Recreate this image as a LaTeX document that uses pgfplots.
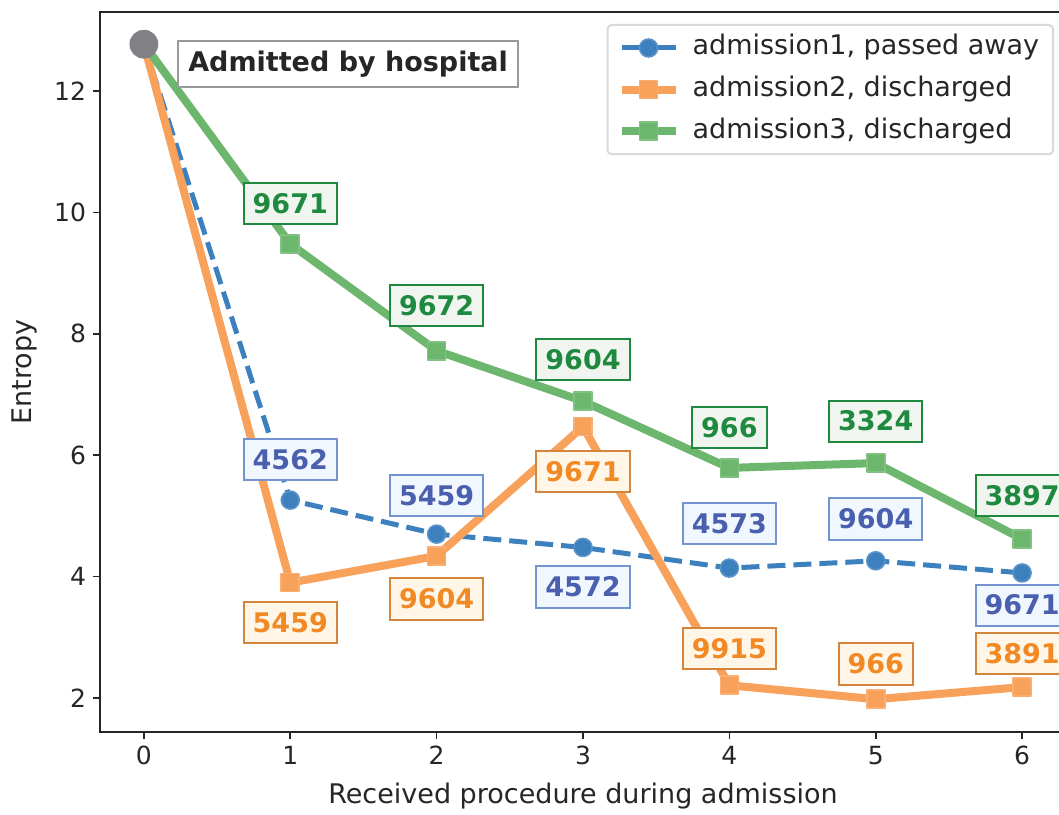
\documentclass[border=0pt]{standalone}
\usepackage{pgfplots}
\pgfplotsset{compat=1.18}
\usepackage{fontspec}
\setmainfont{DejaVu Sans}
\definecolor{cblue}{HTML}{3D80BE}
\definecolor{corange}{HTML}{F8A15B}
\definecolor{cgreen}{HTML}{6DB66D}
\definecolor{cgray}{HTML}{808185}
\definecolor{spine}{HTML}{262626}
\definecolor{lbBtext}{HTML}{4A5FAD}
\definecolor{lbBedge}{HTML}{7494CF}
\definecolor{lbBfill}{HTML}{F0F7FE}
\definecolor{lbOtext}{HTML}{F18A25}
\definecolor{lbOedge}{HTML}{D4853C}
\definecolor{lbOfill}{HTML}{FFF6E7}
\definecolor{lbGtext}{HTML}{1F8A3F}
\definecolor{lbGedge}{HTML}{1F8A3F}
\definecolor{lbGfill}{HTML}{F0F6EF}
\tikzset{
  lb/.style={line width=1pt, font=\bfseries\fontsize{13.5}{16}\selectfont,
    inner xsep=4.5pt, inner ysep=5.4pt, text height=9.8pt, text depth=0pt},
  lbB/.style={lb, draw=lbBedge, fill=lbBfill, text=lbBtext},
  lbO/.style={lb, draw=lbOedge, fill=lbOfill, text=lbOtext},
  lbG/.style={lb, draw=lbGedge, fill=lbGfill, text=lbGtext},
}
\pgfplotsset{
  mylegimg/.style={legend image code/.code={\draw[mark repeat=2,mark phase=2,##1,solid] plot coordinates {(0pt,0pt) (13.5pt,0pt) (27pt,0pt)};}},
}
\begin{document}
\begin{tikzpicture}[font=\fontsize{12.5}{15}\selectfont]
\useasboundingbox (-50pt,-41pt) rectangle (479.5pt,366pt);
\begin{scope}
\clip (-50pt,-41pt) rectangle (479.5pt,366pt);
\begin{axis}[
  at={(0pt,0pt)}, anchor=south west,
  scale only axis, width=483pt, height=360pt,
  xmin=-0.3, xmax=6.3, ymin=1.44, ymax=13.30,
  xtick={0,1,2,3,4,5,6}, ytick={2,4,6,8,10,12},
  tick align=outside, tick pos=left, major tick length=3.5pt,
  tick style={color=spine, line width=0.8pt},
  axis line style={spine, line width=1pt},
  /pgf/number format/assume math mode=true,
  ticklabel style={font=\fontsize{12.5}{15}\selectfont, text=spine},
  xlabel={Received procedure during admission},
  ylabel={Entropy},
  label style={font=\fontsize{13.5}{16}\selectfont, text=spine},
  xlabel style={yshift=-2pt},
  ylabel style={at={(axis description cs:0,0.5)}, anchor=base, yshift=34pt},
  clip=false,
  legend cell align=left,
  legend style={at={(1,1)}, anchor=north east, xshift=-6pt, yshift=-6pt,
    draw=black!15, line width=1pt, rounded corners=2pt, fill=white,
    font=\fontsize{13.5}{16}\selectfont, text=spine,
    inner xsep=5pt, inner ysep=3pt, row sep=3.8pt, column sep=4.5pt,
    nodes={text height=10pt, text depth=3pt}},
  mylegimg,
]
\addplot[cblue, line width=2.5pt, dash pattern=on 9pt off 4pt, line join=round,
  mark=*, mark size=4.5pt, mark options={solid, fill=cblue, draw=cblue!85!white, line width=0.8pt}]
  coordinates {(0,12.77) (1,5.26) (2,4.70) (3,4.48) (4,4.14) (5,4.26) (6,4.06)};
\addlegendentry{admission1, passed away}
\addplot[corange, line width=4pt, line join=round,
  mark=square*, mark size=4.5pt, mark options={fill=corange, draw=corange!85!white, line width=0.8pt}]
  coordinates {(0,12.77) (1,3.90) (2,4.34) (3,6.47) (4,2.21) (5,1.98) (6,2.18)};
\addlegendentry{admission2, discharged}
\addplot[cgreen, line width=4pt, line join=round,
  mark=square*, mark size=4.5pt, mark options={fill=cgreen, draw=cgreen!85!white, line width=0.8pt}]
  coordinates {(0,12.77) (1,9.48) (2,7.72) (3,6.89) (4,5.79) (5,5.87) (6,4.62)};
\addlegendentry{admission3, discharged}
\addplot[only marks, mark=*, mark size=7pt, color=cgray, mark options={fill=cgray, draw=cgray}, forget plot]
  coordinates {(0,12.77)};
\node[line width=1pt, draw=black!40, fill=white, text=spine, font=\bfseries\fontsize{13.5}{16}\selectfont,
  inner xsep=5pt, inner ysep=5.2pt, text height=10pt, text depth=2.8pt] at (axis cs:1.395,12.44) {Admitted by hospital};
\node[lbB] at (axis cs:1,5.93) {4562};
\node[lbB] at (axis cs:2,5.34) {5459};
\node[lbB] at (axis cs:3,3.83) {4572};
\node[lbB] at (axis cs:4,4.87) {4573};
\node[lbB] at (axis cs:5,4.95) {9604};
\node[lbB] at (axis cs:6,3.53) {9671};
\node[lbO] at (axis cs:1,3.24) {5459};
\node[lbO] at (axis cs:2,3.63) {9604};
\node[lbO] at (axis cs:3,5.73) {9671};
\node[lbO] at (axis cs:4,2.82) {9915};
\node[lbO] at (axis cs:5,2.56) {966};
\node[lbO] at (axis cs:6,2.73) {3891};
\node[lbG] at (axis cs:1,10.15) {9671};
\node[lbG] at (axis cs:2,8.46) {9672};
\node[lbG] at (axis cs:3,7.57) {9604};
\node[lbG] at (axis cs:4,6.46) {966};
\node[lbG] at (axis cs:5,6.56) {3324};
\node[lbG] at (axis cs:6,5.34) {3897};
\end{axis}
\end{scope}
\end{tikzpicture}
\end{document}
